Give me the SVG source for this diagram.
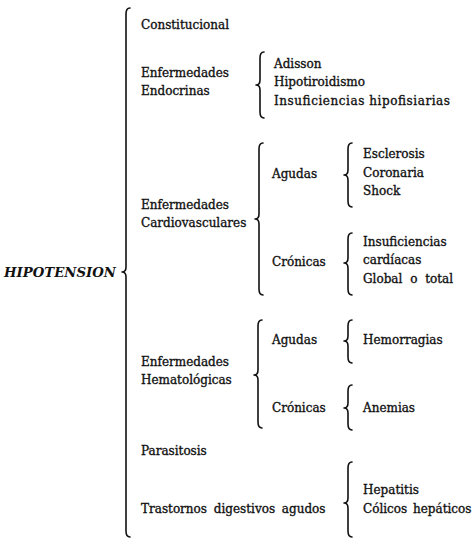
<svg xmlns="http://www.w3.org/2000/svg" width="474" height="539" viewBox="0 0 474 539">
<style>
text{font-family:"DejaVu Serif","Liberation Serif",serif;font-size:12px;fill:#111;stroke:#111;stroke-width:0.35}
.root{font-style:italic;font-weight:bold;stroke-width:0}
.brace{fill:none;stroke:#111;stroke-width:1.6;stroke-linecap:round;stroke-linejoin:round}
</style>
<rect width="474" height="539" fill="#fff"/>
<g id="connectors">
<path class="brace" d="M130 8 Q126 8 126 14 L126 267 Q126 272 122 272 Q126 272 126 277 L126 531 Q126 537 130 537"/>
<path class="brace" d="M264 52 Q260 52 260 58 L260 80 Q260 85 256 85 Q260 85 260 90 L260 112 Q260 118 264 118"/>
<path class="brace" d="M263 143 Q259 143 259 149 L259 214 Q259 219 255 219 Q259 219 259 224 L259 289 Q259 295 263 295"/>
<path class="brace" d="M352 143 Q348 143 348 149 L348 170 Q348 175 344 175 Q348 175 348 180 L348 201 Q348 207 352 207"/>
<path class="brace" d="M352 233 Q348 233 348 239 L348 258 Q348 263 344 263 Q348 263 348 268 L348 289 Q348 295 352 295"/>
<path class="brace" d="M262 320 Q258 320 258 326 L258 370 Q258 375 254 375 Q258 375 258 380 L258 422 Q258 428 262 428"/>
<path class="brace" d="M352 320 Q348 320 348 326 L348 336 Q348 341 344 341 Q348 341 348 346 L348 357 Q348 363 352 363"/>
<path class="brace" d="M352 385 Q348 385 348 391 L348 403 Q348 408 344 408 Q348 408 348 413 L348 424 Q348 430 352 430"/>
<path class="brace" d="M352 462 Q348 462 348 468 L348 498 Q348 503 344 503 Q348 503 348 508 L348 531 Q348 537 352 537"/>
</g>
<g id="hipotension"><text class="root" x="4" y="277" textLength="112" lengthAdjust="spacingAndGlyphs">HIPOTENSION</text></g>
<g id="constitucional"><text x="141" y="29">Constitucional</text></g>
<g id="endocrinas"><text x="141" y="77">Enfermedades</text><text x="141" y="95">Endocrinas</text></g>
<g id="endocrinas-items"><text x="274" y="68">Adisson</text><text x="274" y="86">Hipotiroidismo</text><text x="274" y="105" textLength="176" lengthAdjust="spacing">Insuficiencias hipofisiarias</text></g>
<g id="cardiovasculares"><text x="141" y="209">Enfermedades</text><text x="141" y="227">Cardiovasculares</text></g>
<g id="cardio-agudas"><text x="272" y="178">Agudas</text></g>
<g id="cardio-agudas-items"><text x="363" y="158">Esclerosis</text><text x="363" y="177">Coronaria</text><text x="363" y="195">Shock</text></g>
<g id="cardio-cronicas"><text x="272" y="266">Crónicas</text></g>
<g id="cardio-cronicas-items"><text x="363" y="246">Insuficiencias</text><text x="363" y="264">cardíacas</text><text x="363" y="283" word-spacing="4">Global o total</text></g>
<g id="hematologicas"><text x="141" y="366">Enfermedades</text><text x="141" y="384">Hematológicas</text></g>
<g id="hemato-agudas"><text x="272" y="344">Agudas</text></g>
<g id="hemorragias"><text x="363" y="344">Hemorragias</text></g>
<g id="hemato-cronicas"><text x="272" y="412">Crónicas</text></g>
<g id="anemias"><text x="363" y="412">Anemias</text></g>
<g id="parasitosis"><text x="141" y="455">Parasitosis</text></g>
<g id="digestivos"><text x="141" y="513" word-spacing="3">Trastornos digestivos agudos</text></g>
<g id="digestivos-items"><text x="363" y="494">Hepatitis</text><text x="363" y="513" word-spacing="2">Cólicos hepáticos</text></g>
</svg>
